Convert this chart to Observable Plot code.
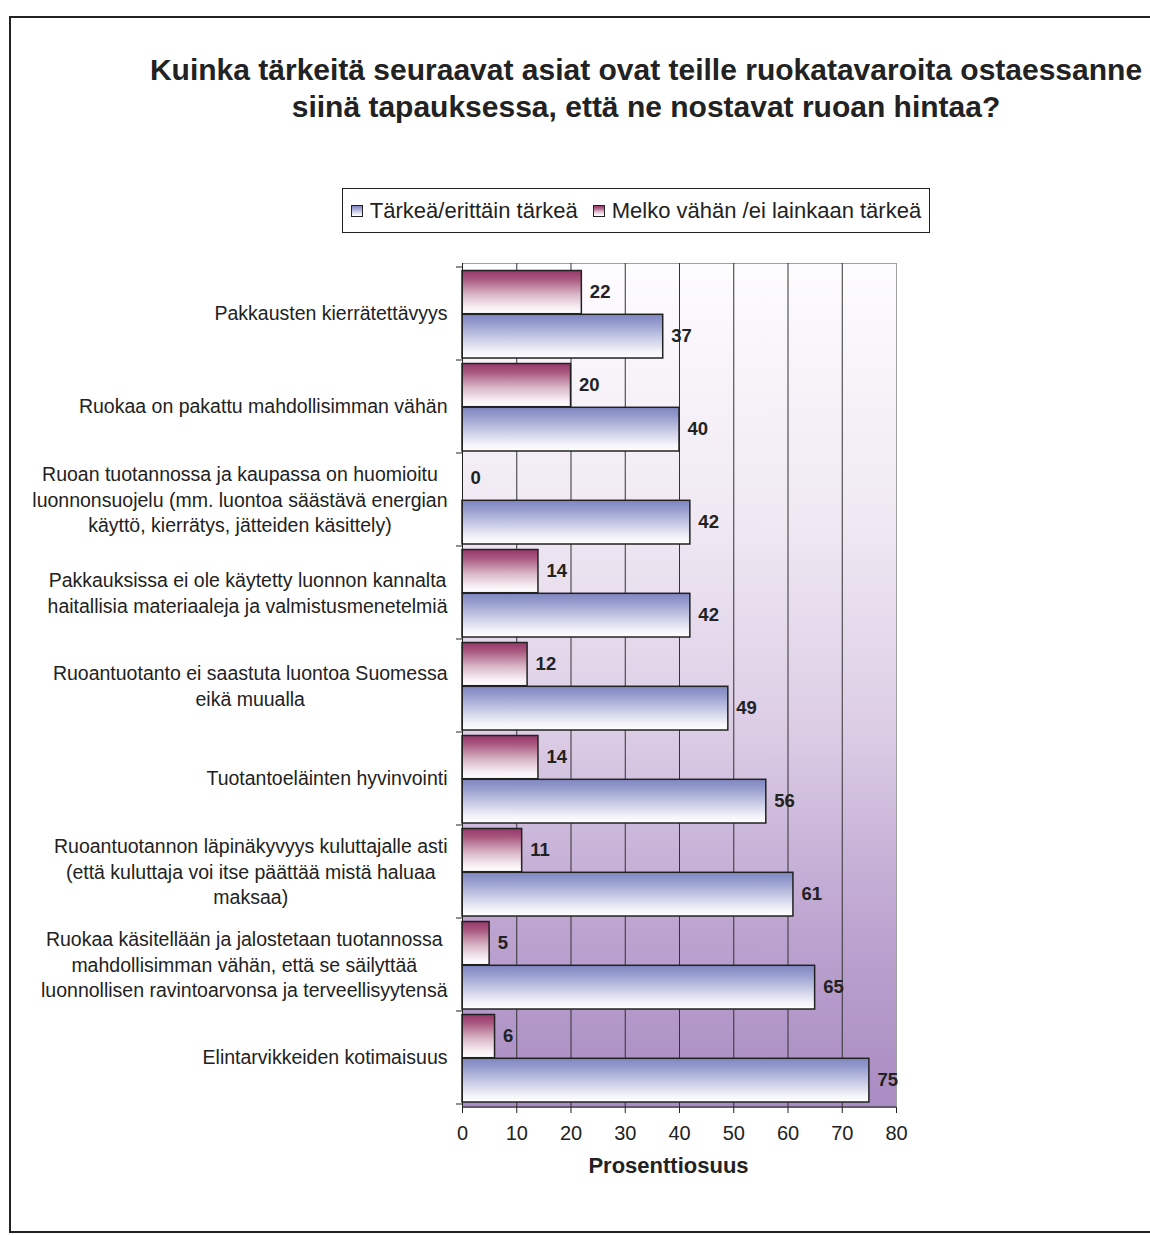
<!DOCTYPE html>
<html>
<head>
<meta charset="utf-8">
<script src="https://cdn.jsdelivr.net/npm/d3@7"></script>
<script src="https://cdn.jsdelivr.net/npm/@observablehq/plot@0.6"></script>
<style>
  html, body { margin: 0; padding: 0; background: #ffffff; overflow: hidden; }
  body { font-family: "Liberation Sans", Arial, Helvetica, sans-serif; color: #222; }
  #wrap { position: relative; width: 1150px; height: 1235px; }
  #wrap svg.chart { position: absolute; left: 0; top: 0; }
  #border { position: absolute; left: 9px; top: 16px; width: 1200px; height: 1217px; border: 2px solid #222; box-sizing: border-box; pointer-events: none; }
  #title { position: absolute; left: 146px; top: 51px; width: 1000px; text-align: center; font-weight: bold; font-size: 30px; line-height: 37px; color: #222; }
  #legend { position: absolute; left: 342px; top: 188px; width: 588px; height: 45px; border: 1px solid #222; box-sizing: border-box; display: flex; align-items: center; justify-content: center; gap: 15px; font-size: 22px; color: #222; background: #fff; }
  .item { display: flex; align-items: center; gap: 7px; white-space: nowrap; }
  .sw { width: 12px; height: 12px; border: 1px solid #222; box-sizing: border-box; }
</style>
</head>
<body>
<div id="wrap">
  <div id="title">Kuinka tärkeitä seuraavat asiat ovat teille ruokatavaroita ostaessanne<br>siinä tapauksessa, että ne nostavat ruoan hintaa?</div>
  <div id="legend"></div>
  <div id="border"></div>
</div>
<script>
// ---- data ----
const categories = [
  "Pakkausten kierrätettävyys",
  "Ruokaa on pakattu mahdollisimman vähän",
  "Ruoan tuotannossa ja kaupassa on huomioitu\nluonnonsuojelu (mm. luontoa säästävä energian\nkäyttö, kierrätys, jätteiden käsittely)",
  "Pakkauksissa ei ole käytetty luonnon kannalta\nhaitallisia materiaaleja ja valmistusmenetelmiä",
  "Ruoantuotanto ei saastuta luontoa Suomessa\neikä muualla",
  "Tuotantoeläinten hyvinvointi",
  "Ruoantuotannon läpinäkyvyys kuluttajalle asti\n(että kuluttaja voi itse päättää mistä haluaa\nmaksaa)",
  "Ruokaa käsitellään ja jalostetaan tuotannossa\nmahdollisimman vähän, että se säilyttää\nluonnollisen ravintoarvonsa ja terveellisyytensä",
  "Elintarvikkeiden kotimaisuus"
];
const important = [37, 40, 42, 42, 49, 56, 61, 65, 75];      // Tärkeä/erittäin tärkeä
const notImportant = [22, 20, 0, 14, 12, 14, 11, 5, 6];      // Melko vähän /ei lainkaan tärkeä
const seriesNames = ["Tärkeä/erittäin tärkeä", "Melko vähän /ei lainkaan tärkeä"];
const xTicks = [0, 10, 20, 30, 40, 50, 60, 70, 80];
const xTitle = "Prosenttiosuus";

const rowsImp = categories.map((c, i) => ({category: c, value: important[i], series: seriesNames[0]}));
const rowsNot = categories.map((c, i) => ({category: c, value: notImportant[i], series: seriesNames[1]}));

const ns = "http://www.w3.org/2000/svg";
const blueStops = [[0, "#7f87c0"], [0.2, "#959bcc"], [0.55, "#c9cce6"], [0.85, "#f3f3f9"], [1, "#ffffff"]];
const magStops = [[0, "#963769"], [0.2, "#a9587f"], [0.55, "#d8b5c5"], [0.85, "#f7eff3"], [1, "#ffffff"]];
const bgStops = [[0, "#fdfcfe"], [0.3, "#f0e9f3"], [0.55, "#dccde5"], [0.8, "#bba2cf"], [1, "#a98cc2"]];

function defsMark() {
  const d = document.createElementNS(ns, "defs");
  const grad = (id, stops) => {
    const g = document.createElementNS(ns, "linearGradient");
    g.setAttribute("id", id);
    g.setAttribute("x1", "0"); g.setAttribute("y1", "0");
    g.setAttribute("x2", "0"); g.setAttribute("y2", "1");
    for (const [o, c] of stops) {
      const s = document.createElementNS(ns, "stop");
      s.setAttribute("offset", o);
      s.setAttribute("stop-color", c);
      g.appendChild(s);
    }
    d.appendChild(g);
  };
  grad("bgGrad", bgStops);
  grad("blueGrad", blueStops);
  grad("magGrad", magStops);
  return d;
}

function bandTicksMark(index, scales, values, dims) {
  const y = scales.y;
  const bw = typeof y.bandwidth === "function" ? y.bandwidth()
    : (dims.height - dims.marginTop - dims.marginBottom) / categories.length;
  const ys = categories.map(c => y(c));
  ys.push(y(categories[categories.length - 1]) + bw);
  const g = document.createElementNS(ns, "g");
  g.setAttribute("stroke", "#222");
  g.setAttribute("stroke-width", "1");
  const line = (x1, y1, x2, y2) => {
    const l = document.createElementNS(ns, "line");
    l.setAttribute("x1", x1); l.setAttribute("y1", y1);
    l.setAttribute("x2", x2); l.setAttribute("y2", y2);
    g.appendChild(l);
  };
  for (const yy of ys) line(dims.marginLeft - 6, yy, dims.marginLeft, yy);
  const yb = dims.height - dims.marginBottom;
  line(dims.marginLeft, yb, dims.width - dims.marginRight, yb);
  return g;
}

const chart = Plot.plot({
  width: 1150,
  height: 1235,
  marginLeft: 462,
  marginRight: 254,
  marginTop: 263,
  marginBottom: 128,
  style: {background: "transparent", fontFamily: "'Liberation Sans', Arial, sans-serif", color: "#222"},
  x: {domain: [0, 80], label: null},
  y: {domain: categories, padding: 0, label: null},
  marks: [
    defsMark,
    Plot.frame({fill: "url(#bgGrad)", stroke: "#a0a0a0"}),
    Plot.gridX(xTicks.slice(1, -1), {stroke: "#333", strokeOpacity: 1, strokeWidth: 1}),
    Plot.barX(rowsNot, {x: "value", y: "category", fill: "url(#magGrad)", stroke: "#222", strokeWidth: 1.5, insetTop: 3.5, insetBottom: 46.3}),
    Plot.barX(rowsImp, {x: "value", y: "category", fill: "url(#blueGrad)", stroke: "#222", strokeWidth: 1.5, insetTop: 47.3, insetBottom: 2}),
    Plot.ruleX([0], {stroke: "#222", strokeWidth: 1}),
    bandTicksMark,
    Plot.axisX(xTicks, {tickSize: 6, tickPadding: 12, fontSize: 20, label: null, stroke: "#222", fill: "#222"}),
    Plot.axisY({tickSize: 0, tickPadding: 15, fontSize: 19.5, label: null, fill: "#222"}),
    Plot.text(rowsNot, {x: "value", y: "category", text: d => String(d.value), dx: 8, dy: -22, textAnchor: "start", fontWeight: "bold", fontSize: 18.5, fill: "#222"}),
    Plot.text(rowsImp, {x: "value", y: "category", text: d => String(d.value), dx: 8, dy: 22.5, textAnchor: "start", fontWeight: "bold", fontSize: 18.5, fill: "#222"}),
    Plot.text([xTitle], {text: d => d, frameAnchor: "bottom", dx: -11, dy: 58, lineAnchor: "middle", fontWeight: "bold", fontSize: 22, fill: "#222"})
  ]
});
chart.classList.add("chart");
document.getElementById("wrap").prepend(chart);

// centre multi-line category labels as blocks right-aligned to the axis
const LH = 25.5;
chart.querySelectorAll('g[aria-label="y-axis tick label"] text').forEach(t => {
  const tspans = t.querySelectorAll("tspan");
  if (tspans.length < 2) return;
  const widths = [...tspans].map(s => s.getComputedTextLength());
  const maxW = Math.max(...widths);
  const n = tspans.length;
  t.setAttribute("text-anchor", "middle");
  tspans.forEach((s, i) => {
    s.setAttribute("x", -maxW / 2);
    s.setAttribute("y", (i - (n - 1) / 2) * LH);
    s.setAttribute("dy", "0.35em");
  });
});

// legend
const legend = document.getElementById("legend");
[[seriesNames[0], blueStops], [seriesNames[1], magStops]].forEach(([name, stops]) => {
  const item = document.createElement("div");
  item.className = "item";
  const sw = document.createElement("span");
  sw.className = "sw";
  sw.style.background = `linear-gradient(to bottom, ${stops.map(([o, c]) => `${c} ${o * 100}%`).join(", ")})`;
  const lab = document.createElement("span");
  lab.textContent = name;
  item.appendChild(sw);
  item.appendChild(lab);
  legend.appendChild(item);
});
</script>
</body>
</html>
